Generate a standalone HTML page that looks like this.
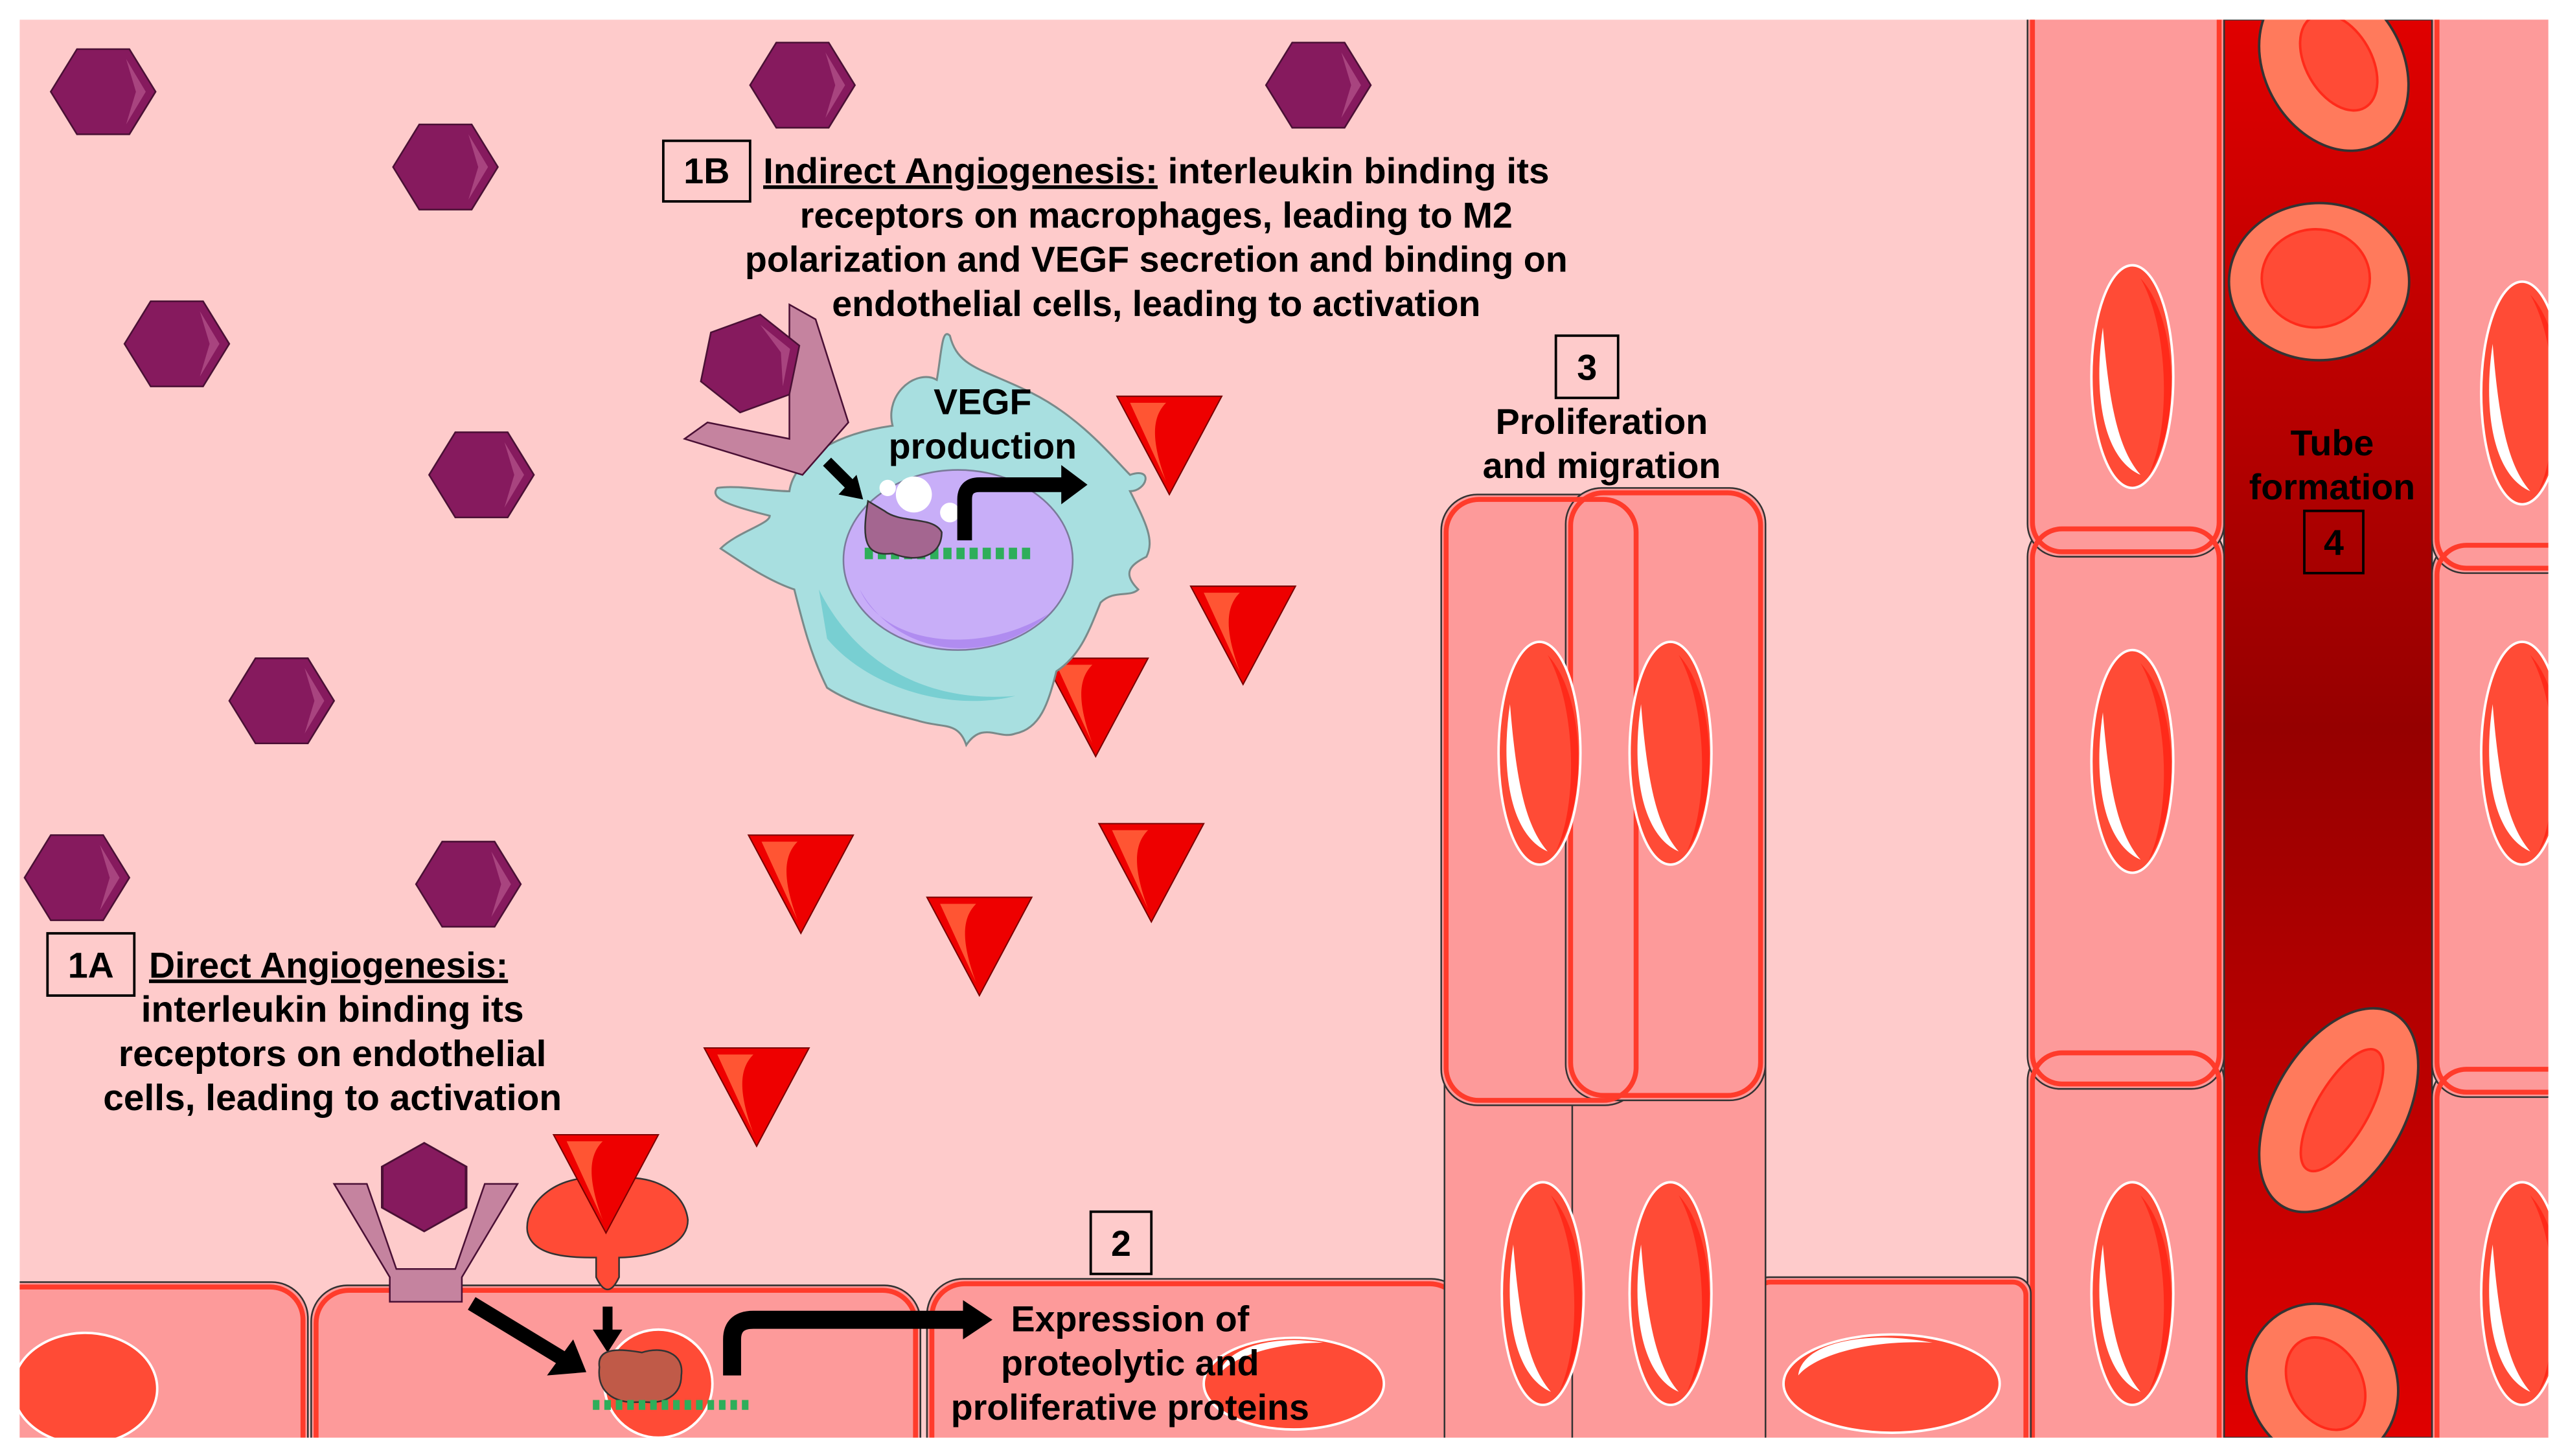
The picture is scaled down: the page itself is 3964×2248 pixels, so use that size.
<!DOCTYPE html>
<html><head><meta charset="utf-8"><style>
html,body{margin:0;padding:0;background:#fff;}
svg{display:block;}
text{font-family:"Liberation Sans",Arial,sans-serif;font-weight:bold;fill:#000;}
</style></head><body>
<svg width="3964" height="2248" viewBox="0 0 1568 889.2" preserveAspectRatio="none" xmlns="http://www.w3.org/2000/svg">
<defs>
<linearGradient id="ves" x1="0" y1="0" x2="0" y2="1">
<stop offset="0" stop-color="#e00000"/><stop offset="0.5" stop-color="#960000"/><stop offset="1" stop-color="#e00000"/>
</linearGradient>
<g id="hex">
<path d="M-32,0 L-16,-26 L16,-26 L32,0 L16,26 L-16,26 Z" fill="#861a5e" stroke="#4a1035" stroke-width="1"/>
<path d="M14,-20 L26,0 L14,20 L20,0 Z" fill="#a8447f"/>
</g>
<g id="vhex">
<path d="M0,-30 L-16,-14 L-16,14 L0,30 L16,14 L16,-14 Z" transform="scale(1.6,0.9)" fill="#861a5e" stroke="#4a1035" stroke-width="1"/>
</g>
<g id="tri">
<path d="M0,0 L64,0 L32,60 Z" fill="#ee0000" stroke="#7a0000" stroke-width="0.8"/>
<path d="M8,4 L30,4 C22,12 20,25 30,52 Z" fill="#ff5533"/>
</g>
<g id="vnuc">
<ellipse cx="0" cy="0" rx="25" ry="68" fill="#ff4b36" stroke="#fff" stroke-width="1.5"/>
<path d="M-18,-30 C-24,10 -18,50 5,60 C-8,45 -14,20 -18,-30 Z" fill="#fff"/>
<path d="M5,-60 C22,-30 24,30 10,60 C30,30 28,-35 5,-60Z" fill="#ff2a1a"/>
</g>
</defs>
<rect x="0" y="0" width="1568" height="889.2" fill="#fff"/>
<rect x="12" y="12" width="1544" height="866" fill="#fecbcb"/>

<!-- vessel right -->
<rect x="1358" y="12" width="127" height="866" fill="url(#ves)" stroke="#333" stroke-width="1"/>
<g stroke="#333" stroke-width="1">
<rect x="1238" y="640" width="120" height="260" rx="20" fill="#fd9a9a"/>
<rect x="1238" y="320" width="120" height="345" rx="20" fill="#fd9a9a"/>
<rect x="1238" y="-10" width="120" height="350" rx="20" fill="#fd9a9a"/>
<rect x="1485" y="650" width="90" height="250" rx="20" fill="#fd9a9a"/>
<rect x="1485" y="330" width="90" height="340" rx="20" fill="#fd9a9a"/>
<rect x="1485" y="-10" width="90" height="360" rx="20" fill="#fd9a9a"/>
</g>
<g fill="none" stroke="#ff3b2b" stroke-width="3">
<rect x="1241" y="-10" width="114" height="347" rx="18"/>
<rect x="1241" y="323" width="114" height="339" rx="18"/>
<rect x="1241" y="643" width="114" height="257" rx="18"/>
<rect x="1488" y="-10" width="90" height="357" rx="18"/>
<rect x="1488" y="333" width="90" height="334" rx="18"/>
<rect x="1488" y="653" width="90" height="247" rx="18"/>
</g>
<use href="#vnuc" x="1302" y="230"/>
<use href="#vnuc" x="1302" y="465"/>
<use href="#vnuc" x="1302" y="790"/>
<use href="#vnuc" x="1540" y="240"/>
<use href="#vnuc" x="1540" y="460"/>
<use href="#vnuc" x="1540" y="790"/>
<!-- RBCs -->
<g stroke="#333" stroke-width="1.5">
<ellipse cx="1425" cy="40" rx="42" ry="55" transform="rotate(-30 1425 40)" fill="#ff7a5c"/>
<ellipse cx="1416" cy="172" rx="55" ry="48" fill="#ff7a5c"/>
<ellipse cx="1428" cy="678" rx="40" ry="68" transform="rotate(30 1428 678)" fill="#ff7a5c"/>
<ellipse cx="1418" cy="845" rx="45" ry="50" transform="rotate(-30 1418 845)" fill="#ff7a5c"/>
</g>
<g fill="#ff4b36" stroke="#ff2a1a" stroke-width="1.5">
<ellipse cx="1428" cy="38" rx="20" ry="32" transform="rotate(-30 1428 38)"/>
<ellipse cx="1414" cy="170" rx="33" ry="30"/>
<ellipse cx="1430" cy="678" rx="16" ry="42" transform="rotate(30 1430 678)"/>
<ellipse cx="1420" cy="845" rx="22" ry="30" transform="rotate(-30 1420 845)"/>
</g>

<!-- bottom band cells -->
<g stroke="#333" stroke-width="1" fill="#fd9a9a">
<rect x="-10" y="783" width="198" height="120" rx="22"/>
<rect x="190" y="785" width="372" height="120" rx="22"/>
<rect x="566" y="781" width="330" height="120" rx="22"/>
<rect x="1070" y="780" width="170" height="120" rx="10"/>
</g>
<g fill="none" stroke="#ff3b2b" stroke-width="3">
<rect x="-7" y="786" width="192" height="114" rx="20"/>
<rect x="193" y="788" width="366" height="114" rx="20"/>
<rect x="569" y="784" width="324" height="114" rx="20"/>
<rect x="1073" y="783" width="164" height="114" rx="8"/>
</g>
<g stroke="#fff" stroke-width="1.5">
<ellipse cx="52" cy="848" rx="44" ry="34" fill="#ff4b36"/>
<ellipse cx="790" cy="845" rx="55" ry="28" fill="#ff4b36"/>
<ellipse cx="1155" cy="845" rx="66" ry="30" fill="#ff4b36"/>
<circle cx="402" cy="845" r="33" fill="#ff4b36"/>
</g>
<path d="M1098,840 C1100,820 1140,812 1180,820 C1140,818 1108,828 1098,840Z" fill="#fff"/>
<path d="M744,840 C748,822 780,815 808,820 C780,820 752,828 744,840Z" fill="#fff"/>

<!-- middle cells -->
<g stroke="#333" stroke-width="1" fill="#fd9a9a">
<rect x="882" y="600" width="80" height="300" rx="10"/>
<rect x="960" y="600" width="118" height="300" rx="10"/>
<rect x="880" y="302" width="122" height="373" rx="22"/>
<rect x="956" y="298" width="122" height="374" rx="22"/>
</g>
<g fill="none" stroke="#ff3b2b" stroke-width="3">
<rect x="883" y="305" width="116" height="367" rx="20"/>
<rect x="959" y="301" width="116" height="368" rx="20"/>
</g>
<use href="#vnuc" x="940" y="460"/>
<use href="#vnuc" x="1020" y="460"/>
<use href="#vnuc" x="942" y="790"/>
<use href="#vnuc" x="1020" y="790"/>

<!-- hexagons -->
<use href="#hex" x="63" y="56"/>
<use href="#hex" x="272" y="102"/>
<use href="#hex" x="490" y="52"/>
<use href="#hex" x="805" y="52"/>
<use href="#hex" x="108" y="210"/>
<use href="#hex" x="294" y="290"/>
<use href="#hex" x="172" y="428"/>
<use href="#hex" x="47" y="536"/>
<use href="#hex" x="286" y="540"/>

<!-- triangles -->
<use href="#tri" x="682" y="242"/>
<use href="#tri" x="727" y="358"/>
<use href="#tri" x="637" y="402"/>
<use href="#tri" x="457" y="510"/>
<use href="#tri" x="671" y="503"/>
<use href="#tri" x="566" y="548"/>
<use href="#tri" x="430" y="640"/>

<!-- macrophage -->
<path d="M545,260 C540,240 560,225 572,232 C575,215 575,200 580,205 C585,225 600,225 630,240 C660,255 680,280 690,290 C705,285 700,300 690,300 C700,320 705,330 700,340 C690,345 685,350 695,360 C690,365 680,360 672,368 C665,385 660,400 645,410 C640,430 635,445 620,448 C610,452 600,440 590,455 C585,440 575,445 560,440 C540,435 520,430 505,420 C495,400 490,380 485,360 C470,355 455,345 440,335 C450,325 470,320 470,315 C450,310 432,305 438,298 C450,296 470,300 482,300 C485,280 510,265 545,260Z" fill="#a8dfe0" stroke="#7a8a8a" stroke-width="1.2"/>
<path d="M500,360 C520,400 560,430 620,425 C580,435 530,420 505,390Z" fill="#78cfd2"/>
<ellipse cx="585" cy="342" rx="70" ry="55" fill="#c8aef8" stroke="#7a7a9a" stroke-width="1"/>
<path d="M525,360 C540,395 600,400 640,375 C610,405 550,405 525,360Z" fill="#b08cf0"/>
<circle cx="558" cy="302" r="11" fill="#fff"/>
<circle cx="542" cy="298" r="5" fill="#fff"/>
<circle cx="580" cy="313" r="6" fill="#fff"/>
<path d="M528,338 L630,338" stroke="#2eae5a" stroke-width="7" stroke-dasharray="5 3"/>
<path d="M530,306 C526,330 528,340 545,338 C560,344 575,340 575,325 C570,315 550,320 540,312 Z" fill="#a46690" stroke="#333" stroke-width="1"/>
<path d="M589,330 L589,305 Q589,296 598,296 L650,296" fill="none" stroke="#000" stroke-width="9"/>
<path d="M648,284 L664,296 L648,308Z" fill="#000"/>
<path d="M505,282 L520,297" stroke="#000" stroke-width="7"/>
<path d="M512,302 L527,305 L523,290Z" fill="#000"/>
<!-- receptor 1B -->
<path d="M482,186 L498,195 L518,258 L490,290 L418,268 L432,258 L482,268 Z" fill="#c5839f" stroke="#4a1035" stroke-width="1"/>
<g transform="translate(458,222) rotate(-20)"><use href="#hex"/></g>
<text x="600" y="253" font-size="22" text-anchor="middle">VEGF</text>
<text x="600" y="280" font-size="22" text-anchor="middle">production</text>

<!-- 1A receptors -->
<path d="M204,723 L224,723 L242,775 L278,775 L296,723 L316,723 L282,780 L282,795 L238,795 L238,780 Z" fill="#c5839f" stroke="#4a1035" stroke-width="1"/>
<use href="#vhex" x="259" y="725"/>
<path d="M372,720 C340,715 320,735 322,752 C325,768 350,768 364,768 L364,780 Q371,795 378,780 L378,768 C395,768 420,762 420,745 C418,728 400,716 372,720Z" fill="#ff4b36" stroke="#333" stroke-width="1"/>
<use href="#tri" x="338" y="693"/>
<!-- arrows 1A -->
<path d="M288,796 L344,830" stroke="#000" stroke-width="9"/>
<path d="M334,840 L358,838 L350,818Z" fill="#000"/>
<path d="M371,798 L371,815" stroke="#000" stroke-width="6"/>
<path d="M362,812 L380,812 L371,826Z" fill="#000"/>
<path d="M366,835 C364,822 380,824 392,826 C404,822 418,826 416,840 C416,852 406,858 392,856 C378,858 364,852 366,835Z" fill="#c05a48" stroke="#333" stroke-width="1"/>
<path d="M362,858 L458,858" stroke="#2eae5a" stroke-width="6" stroke-dasharray="4 3"/>
<path d="M447,840 L447,818 Q447,806 460,806 L590,806" fill="none" stroke="#000" stroke-width="11"/>
<path d="M588,794 L606,806 L588,818Z" fill="#000"/>

<!-- labels -->
<rect x="405" y="86" width="53" height="37" fill="none" stroke="#000" stroke-width="1.5"/>
<text x="431.5" y="112" font-size="22" text-anchor="middle">1B</text>
<text x="466" y="112" font-size="22" textLength="480" lengthAdjust="spacingAndGlyphs"><tspan text-decoration="underline">Indirect Angiogenesis:</tspan> interleukin binding its</text>
<text x="706" y="139" font-size="22" text-anchor="middle">receptors on macrophages, leading to M2</text>
<text x="706" y="166" font-size="22" text-anchor="middle">polarization and VEGF secretion and binding on</text>
<text x="706" y="193" font-size="22" text-anchor="middle">endothelial cells, leading to activation</text>

<rect x="29" y="570" width="53" height="38" fill="none" stroke="#000" stroke-width="1.5"/>
<text x="55.5" y="597" font-size="22" text-anchor="middle">1A</text>
<text x="91" y="597" font-size="22" text-decoration="underline">Direct Angiogenesis:</text>
<text x="203" y="624" font-size="22.5" text-anchor="middle">interleukin binding its</text>
<text x="203" y="651" font-size="22.5" text-anchor="middle">receptors on endothelial</text>
<text x="203" y="678" font-size="22.5" text-anchor="middle">cells, leading to activation</text>

<rect x="950" y="205" width="38" height="38" fill="none" stroke="#000" stroke-width="1.5"/>
<text x="969" y="232" font-size="22" text-anchor="middle">3</text>
<text x="978" y="265" font-size="22" text-anchor="middle">Proliferation</text>
<text x="978" y="292" font-size="22" text-anchor="middle">and migration</text>

<text x="1424" y="278" font-size="22" text-anchor="middle">Tube</text>
<text x="1424" y="305" font-size="22" text-anchor="middle">formation</text>
<rect x="1407" y="312" width="36" height="38" fill="none" stroke="#000" stroke-width="1.5"/>
<text x="1425" y="339" font-size="22" text-anchor="middle">4</text>

<rect x="666" y="740" width="37" height="38" fill="none" stroke="#000" stroke-width="1.5"/>
<text x="684.5" y="767" font-size="22" text-anchor="middle">2</text>
<text x="690" y="813" font-size="22" text-anchor="middle">Expression of</text>
<text x="690" y="840" font-size="22" text-anchor="middle">proteolytic and</text>
<text x="690" y="867" font-size="22" text-anchor="middle">proliferative proteins</text>

<rect x="0" y="878" width="1568" height="12" fill="#fff"/>
<rect x="0" y="0" width="12" height="890" fill="#fff"/>
<rect x="0" y="0" width="1568" height="12" fill="#fff"/>
<rect x="1556" y="0" width="12" height="890" fill="#fff"/>
</svg>
</body></html>
